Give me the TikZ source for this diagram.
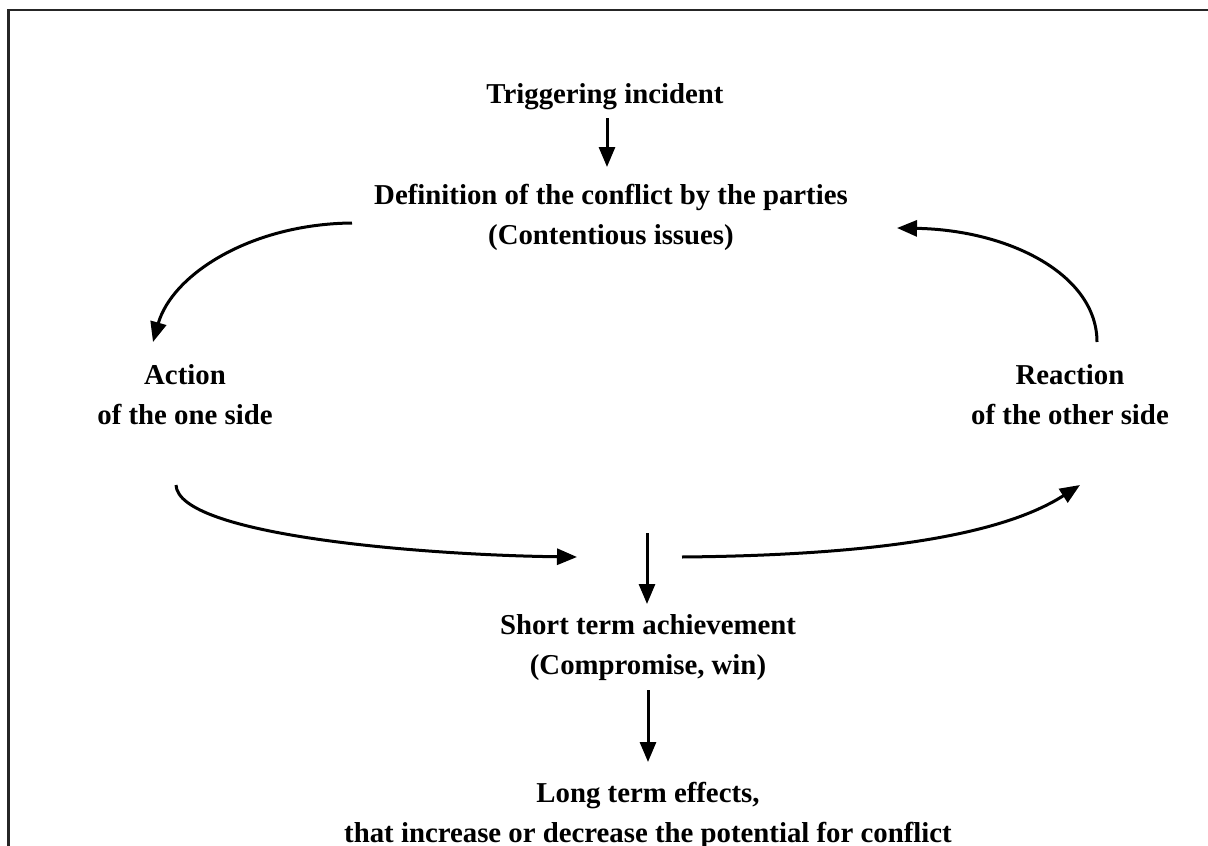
\documentclass[tikz,border=0pt]{standalone}
\usepackage{fontspec}
\setmainfont{Liberation Serif}
\usetikzlibrary{arrows.meta}
\begin{document}
\begin{tikzpicture}[x=1pt,y=-1pt,
  lbl/.style={font=\fontsize{28.8}{40}\selectfont\bfseries, align=center, inner sep=0pt},
  conn/.style={line width=3pt, -{Triangle[length=20pt,width=16pt]}},
  frame/.style={line width=2.5pt, draw=black!85}]
\useasboundingbox (0,0) rectangle (1208,846);
\draw[frame] (8.5,846) -- (8.5,10) -- (1208,10);
% texts
\node[lbl] (trig) at (605,97) {Triggering incident};
\node[lbl] (def) at (611,217) {Definition of the conflict by the parties\\(Contentious issues)};
\node[lbl] (act) at (185,395) {Action\\of the one side};
\node[lbl] (react) at (1070,395) {Reaction\\of the other side};
\node[lbl] (short) at (648,648) {Short term achievement\\(Compromise, win)};
\node[lbl] (long) at (648,815) {Long term effects,\\that increase or decrease the potential for conflict};
% coordinates
\coordinate (t1) at (607,118);
\coordinate (t2) at (607,167);
\coordinate (d1) at (352,223);
\coordinate (a1) at (153,342);
\coordinate (r1) at (1097,342);
\coordinate (d2) at (897,228);
\coordinate (a2) at (176,485);
\coordinate (m1) at (577,557);
\coordinate (m2) at (682,557);
\coordinate (r2) at (1080,485);
\coordinate (s1) at (647,533);
\coordinate (s2) at (647,604);
\coordinate (l1) at (648,690);
\coordinate (l2) at (648,762);
% connectors
\draw[conn] (t1) -- (t2);
\draw[conn] (d1) .. controls (250,224) and (172,275) .. (a1);
\draw[conn] (r1) .. controls (1097,275) and (1010,230) .. (d2);
\draw[conn] (a2) .. controls (178,535) and (420,555) .. (m1);
\draw[conn] (m2) .. controls (900,555) and (1010,530) .. (r2);
\draw[conn] (s1) -- (s2);
\draw[conn] (l1) -- (l2);
\end{tikzpicture}
\end{document}
